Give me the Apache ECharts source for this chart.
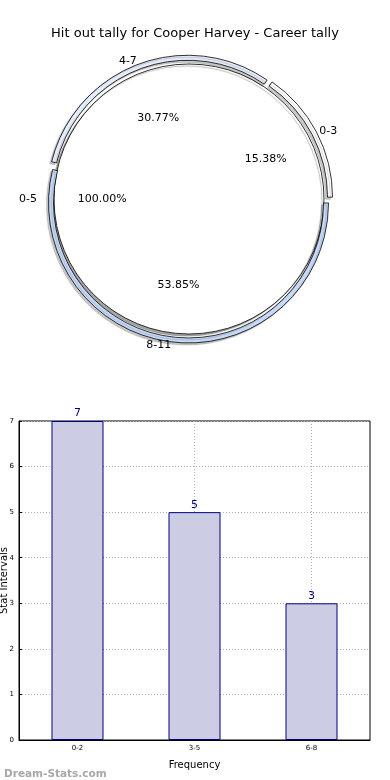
<!DOCTYPE html>
<html>
<head>
<meta charset="utf-8">
<script src="https://cdn.jsdelivr.net/npm/echarts@6/dist/echarts.min.js"></script>
<style>
html,body{margin:0;padding:0;background:#fff;}
#c{width:390px;height:780px;}
</style>
</head>
<body>
<div id="c"></div>
<script>
const chartTitle = 'Hit out tally for Cooper Harvey - Career tally';
const innerNames = ['0-5'];
const innerValues = [13];
const outerNames = ['0-3', '4-7', '8-11'];
const outerValues = [2, 4, 7];
const outerColors = ['#ffffff', '#e6edfa', '#c6daf8'];
const barCategories = ['0-2', '3-5', '6-8'];
const barValues = [7, 5, 3];
const yTicks = [0, 1, 2, 3, 4, 5, 6, 7];

const FONT = 'DejaVu Sans';
const CX = 189, CY = 199, R = 135, RW = 5;
const innerShadow = {shadowColor: 'rgba(0,0,0,0.35)', shadowOffsetX: -2, shadowOffsetY: 2, shadowBlur: 1};
const ringShadow = {shadowColor: 'rgba(0,0,0,0.22)', shadowOffsetX: -2, shadowOffsetY: 2, shadowBlur: 1};

const innerData = innerNames.map((n, i) => ({name: n, value: innerValues[i]}));
const outerData = outerNames.map((n, i) => ({
  name: n, value: outerValues[i], selected: true,
  itemStyle: {color: outerColors[i]}
}));
const pctFmt = p => p.percent.toFixed(2) + '%';

const chart = echarts.init(document.getElementById('c'));
chart.setOption({
  animation: false,
  backgroundColor: '#fff',
  title: [
    {text: chartTitle, left: 'center', top: 22,
     textStyle: {fontFamily: FONT, fontSize: 13, fontWeight: 'normal', color: '#000'}},
    {text: 'Dream-Stats.com', left: -1, top: 764,
     textStyle: {fontFamily: FONT, fontSize: 10.5, fontWeight: 'bold', color: '#a8a8a8'}}
  ],
  grid: {left: 19, right: 20, top: 421, bottom: 40, show: true, containLabel: false, outerBoundsMode: 'none',
         borderColor: '#000', borderWidth: 1, backgroundColor: 'transparent'},
  xAxis: {
    type: 'category', data: barCategories,
    name: 'Frequency', nameLocation: 'middle', nameGap: 20, nameMoveOverlap: false,
    nameTextStyle: {fontFamily: FONT, fontSize: 10, color: '#000'},
    axisLine: {lineStyle: {color: '#000', width: 1}},
    axisTick: {show: true, inside: true, alignWithLabel: true, length: 3, lineStyle: {color: '#000'}},
    axisLabel: {fontFamily: FONT, fontSize: 7, color: '#000', margin: 5},
    splitLine: {show: true, alignWithLabel: true, lineStyle: {color: '#b0b0b0', type: [1, 2], width: 1}}
  },
  yAxis: {
    type: 'value', min: yTicks[0], max: yTicks[yTicks.length - 1], interval: 1,
    name: 'Stat Intervals', nameLocation: 'middle', nameGap: 10, nameRotate: 90, nameMoveOverlap: false,
    nameTextStyle: {fontFamily: FONT, fontSize: 10, color: '#000'},
    axisLine: {show: true, lineStyle: {color: '#000', width: 1}},
    axisTick: {show: true, inside: true, length: 3, lineStyle: {color: '#000'}},
    axisLabel: {fontFamily: FONT, fontSize: 7, color: '#000', margin: 5},
    splitLine: {show: true, lineStyle: {color: '#b0b0b0', type: [1, 2], width: 1}}
  },
  series: [
    {
      type: 'pie', center: [CX, CY], radius: [0, R], clockwise: false, startAngle: 0,
      data: innerData, avoidLabelOverlap: false, silent: true,
      itemStyle: Object.assign({color: '#fff', borderColor: '#000', borderWidth: 0.8}, innerShadow),
      label: {show: true, position: 'outside', formatter: '{b}', fontFamily: FONT, fontSize: 11, color: '#000', distanceToLabelLine: 0},
      labelLine: {show: false, length: 17, length2: 0}
    },
    {
      type: 'pie', center: [CX, CY], radius: [R, R + RW], clockwise: false, startAngle: 0,
      data: outerData, selectedMode: 'multiple', selectedOffset: 4, avoidLabelOverlap: false, silent: true,
      itemStyle: Object.assign({borderColor: '#000', borderWidth: 0.8}, ringShadow),
      label: {show: true, position: 'outside', formatter: '{b}', fontFamily: FONT, fontSize: 11, color: '#000', distanceToLabelLine: 0},
      labelLine: {show: false, length: 3, length2: 0}
    },
    {
      type: 'pie', center: [CX, CY], radius: [0, R * 1.24], clockwise: false, startAngle: 0,
      data: innerData, silent: true, z: 5,
      itemStyle: {color: 'transparent', borderWidth: 0},
      label: {show: true, position: 'inside', formatter: pctFmt, fontFamily: FONT, fontSize: 11, color: '#000'},
      labelLine: {show: false}
    },
    {
      type: 'pie', center: [CX, CY], radius: [0, R * 1.24], clockwise: false, startAngle: 0,
      data: outerNames.map((n, i) => ({name: n, value: outerValues[i]})), silent: true, z: 5,
      itemStyle: {color: 'transparent', borderWidth: 0},
      label: {show: true, position: 'inside', formatter: pctFmt, fontFamily: FONT, fontSize: 11, color: '#000'},
      labelLine: {show: false}
    },
    {
      type: 'bar', data: barValues, barWidth: 52,
      itemStyle: {color: '#ccccE5', borderColor: '#000080', borderWidth: 1},
      label: {show: true, position: 'top', distance: 2, fontFamily: FONT, fontSize: 11, color: '#000080'}
    }
  ]
});
</script>
</body>
</html>
